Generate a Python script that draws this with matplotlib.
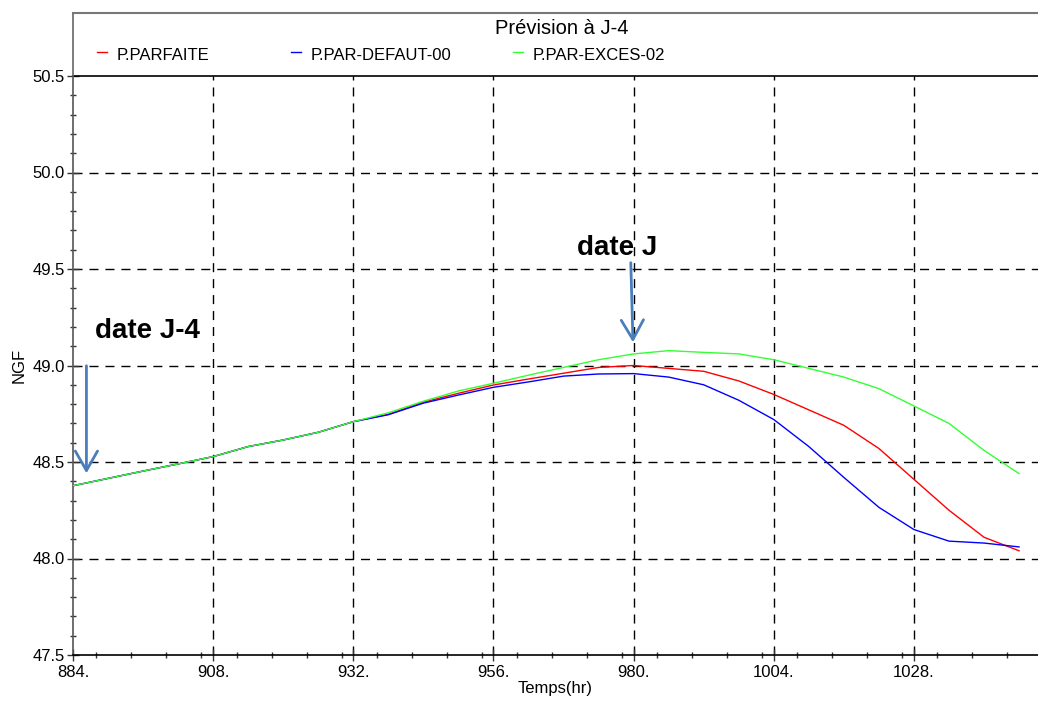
import matplotlib
matplotlib.use("Agg")
import matplotlib.pyplot as plt
from matplotlib.lines import Line2D
from matplotlib.ticker import MultipleLocator, FixedLocator
import numpy as np

plt.rcParams['font.family'] = ['Liberation Sans', 'DejaVu Sans']

# Water level forecasts (NGF) every 6 hours
temps = np.arange(884, 1047, 6)
parfaite = [48.377, 48.415, 48.453, 48.490, 48.528, 48.580, 48.614, 48.654, 48.709,
            48.747, 48.810, 48.856, 48.899, 48.930, 48.960, 48.990, 49.000, 48.985,
            48.970, 48.920, 48.850, 48.770, 48.690, 48.570, 48.410, 48.250, 48.110, 48.040]
defaut_00 = [48.377, 48.415, 48.453, 48.490, 48.528, 48.580, 48.614, 48.654, 48.709,
             48.745, 48.805, 48.847, 48.887, 48.915, 48.945, 48.956, 48.958, 48.940,
             48.900, 48.820, 48.720, 48.580, 48.420, 48.265, 48.150, 48.090, 48.080, 48.060]
exces_02 = [48.377, 48.415, 48.453, 48.490, 48.528, 48.580, 48.614, 48.654, 48.709,
            48.755, 48.815, 48.868, 48.908, 48.950, 48.990, 49.030, 49.060, 49.077,
            49.068, 49.060, 49.030, 48.985, 48.940, 48.880, 48.790, 48.700, 48.560, 48.440]

series = [parfaite, defaut_00, exces_02]
labels = ['P.PARFAITE', 'P.PAR-DEFAUT-00', 'P.PAR-EXCES-02']
colors = ['#ff0000', '#0000ff', '#33ff33']

x_major = np.arange(884, 1029, 24)
y_major = np.arange(47.5, 50.51, 0.5)

W, H = 1038, 704
fig = plt.figure(figsize=(W / 100, H / 100), dpi=100)
ax = fig.add_axes([73 / W, (H - 655) / H, (W - 73) / W, (655 - 76) / H])

for vals, lab, col in zip(series, labels, colors):
    ax.plot(temps, vals, color=col, lw=1.0, label=lab, zorder=3)

ax.set_xlim(884, 884 + 965 / 5.84)
ax.set_ylim(47.5, 50.5)

# dashed grid, inner lines only
dash = (0, (6.5, 5))
for v in x_major[1:]:
    ax.axvline(v, color='black', lw=1.0, ls=dash, zorder=1)
for v in y_major[1:-1]:
    ax.axhline(v, color='black', lw=1.0, ls=dash, zorder=1)

ax.xaxis.set_major_locator(FixedLocator(x_major))
ax.set_xticklabels([f"{v}." for v in x_major])
ax.xaxis.set_minor_locator(MultipleLocator(6))
ax.yaxis.set_major_locator(FixedLocator(y_major))
ax.set_yticklabels([f"{v:.1f}" for v in y_major])
ax.yaxis.set_minor_locator(MultipleLocator(0.1))

ax.tick_params(which='major', direction='inout', length=8, width=1, color='#333333',
               labelsize=12, pad=2)
ax.tick_params(which='minor', direction='inout', length=5, width=1, color='#333333')
ax.tick_params(axis='x', which='major', pad=3)

ax.spines['right'].set_visible(False)
ax.spines['left'].set_color('#555555')
ax.spines['left'].set_linewidth(1.2)
ax.spines['bottom'].set_linewidth(1.2)
ax.spines['top'].set_linewidth(1.2)

ax.set_xlabel('Temps(hr)', fontsize=12, labelpad=1)
ax.set_ylabel('NGF', fontsize=12, labelpad=4)

# annotations
arrow_col = '#4a7ebb'
head = '->,head_length=1.4,head_width=0.8'
ax.annotate('', xy=(886.3, 48.427), xytext=(886.3, 49.013),
            arrowprops=dict(arrowstyle=head, color=arrow_col, lw=2))
ax.annotate('', xy=(979.9, 49.106), xytext=(979.5, 49.547),
            arrowprops=dict(arrowstyle=head, color=arrow_col, lw=2))
ax.text(896.8, 49.18, 'date J-4', fontsize=20, fontweight='bold', ha='center', va='center')
ax.text(977.2, 49.61, 'date J', fontsize=20, fontweight='bold', ha='center', va='center')

# header frame with title and legend
fig.add_artist(Line2D([73 / W, 73 / W], [(H - 13) / H, (H - 76) / H],
                      transform=fig.transFigure, color='#666666', lw=1.2))
fig.add_artist(Line2D([73 / W, 1.0], [(H - 13) / H, (H - 13) / H],
                      transform=fig.transFigure, color='#777777', lw=1.5))
fig.text(562 / W, (H - 28) / H, 'Prévision à J-4', fontsize=14.5, ha='center', va='center')

leg_x = [97, 291, 513]
for lx, lab, col in zip(leg_x, labels, colors):
    fig.add_artist(Line2D([lx / W, (lx + 10) / W], [(H - 52) / H, (H - 52) / H],
                          transform=fig.transFigure, color=col, lw=1.0))
    fig.text((lx + 20) / W, (H - 56) / H, lab, fontsize=12, ha='left', va='center')

fig.savefig('out.png', dpi=100)
